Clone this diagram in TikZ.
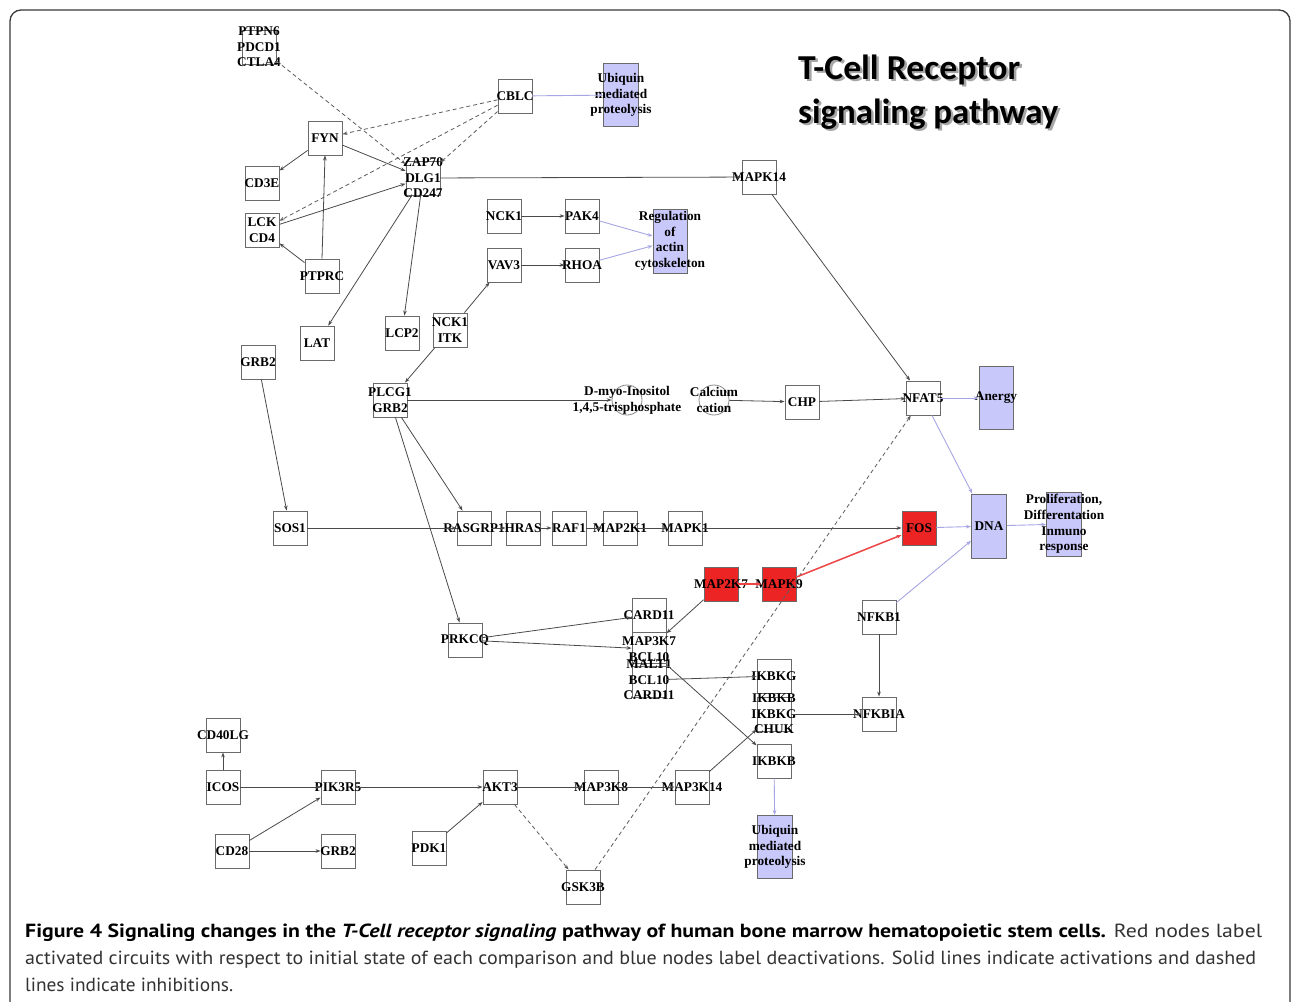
\documentclass[tikz,border=0pt]{standalone}
\usepackage{fontspec}
\usepackage{graphicx}
\setmainfont{Liberation Serif}
\newfontfamily\capfont{PT Sans}
\newfontfamily\titlefont{Carlito}
\usetikzlibrary{arrows.meta}

\definecolor{edgegray}{HTML}{4A4A4A}
\definecolor{boxgray}{HTML}{6A6A6A}
\definecolor{procblue}{HTML}{C8C8FA}
\definecolor{bluelink}{HTML}{A6A6E4}
\definecolor{actred}{HTML}{EC2424}
\definecolor{redlink}{HTML}{EE4444}
\definecolor{framegray}{HTML}{3A3A3A}

\tikzset{
  gene/.style={draw=boxgray, line width=0.9pt, minimum width=34pt, minimum height=34pt, inner sep=0pt},
  redgene/.style={gene, fill=actred},
  proc/.style={draw=boxgray, line width=0.9pt, fill=procblue, minimum width=35pt, minimum height=63pt, inner sep=0pt},
  metab/.style={circle, draw=boxgray!80, line width=0.8pt, minimum size=30pt, inner sep=0pt},
  lbl/.style={font=\bfseries\fontsize{13.3}{15.6}\selectfont, align=center, inner sep=0pt, text=black},
  tip/.style={-{Stealth[length=5pt,width=3.6pt]}},
  act/.style={draw=edgegray, line width=0.8pt, tip},
  inh/.style={draw=edgegray!90, line width=0.8pt, dash pattern=on 4pt off 3pt, tip},
  blu/.style={draw=bluelink, line width=0.9pt, tip},
  redl/.style={draw=redlink, line width=1.5pt, tip},
  titletxt/.style={font=\titlefont\bfseries\fontsize{35}{42}\selectfont, inner sep=0pt},
  captxt/.style={font=\capfont\fontsize{19}{23}\selectfont, inner sep=0pt, anchor=base west}
}

\begin{document}
\begin{tikzpicture}[x=1pt,y=-1pt]
\useasboundingbox (0,0) rectangle (1292,1001);
\fill[white] (0,0) rectangle (1292,1001);
\draw[framegray, line width=1.3pt, rounded corners=11pt] (10,1040) -- (10,10) -- (1290,10) -- (1290,1040);

% ---------- title ----------
\node[titletxt, text=black!35, anchor=base west] (titleshadowA) at (800.5,81.5) {\resizebox{222pt}{\height}{T-Cell Receptor}};
\node[titletxt, text=black!35, anchor=base west] (titleshadowB) at (800.5,125.5) {\resizebox{260pt}{\height}{signaling pathway}};
\node[titletxt, anchor=base west] (titleA) at (798,79) {\resizebox{222pt}{\height}{T-Cell Receptor}};
\node[titletxt, anchor=base west] (titleB) at (798,123) {\resizebox{260pt}{\height}{signaling pathway}};

% ---------- genes: receptor complex ----------
\node[gene, label={[lbl]center:{PTPN6\\PDCD1\\CTLA4}}] (ptpn6) at (259,47) {};
\node[gene, label={[lbl]center:FYN}] (fyn) at (325,138) {};
\node[gene, label={[lbl]center:CD3E}] (cd3e) at (262,183) {};
\node[gene, label={[lbl]center:{LCK\\CD4}}] (lck) at (262,230) {};
\node[gene, label={[lbl]center:PTPRC}] (ptprc) at (322,276) {};
\node[gene, label={[lbl]center:{ZAP70\\DLG1\\CD247}}] (zap) at (423,178) {};
\node[gene, label={[lbl]center:CBLC}] (cblc) at (515,96) {};
\node[proc, label={[lbl]center:{Ubiquin\\mediated\\proteolysis}}] (ubq1) at (621,95) {};
\node[gene, label={[lbl]center:MAPK14}] (mapk14) at (759,177) {};
\node[gene, label={[lbl]center:LAT}] (lat) at (317,343) {};
\node[gene, label={[lbl]center:LCP2}] (lcp2) at (402,333) {};
\node[gene, label={[lbl]center:{NCK1\\ITK}}] (nckitk) at (450,330) {};
\node[gene, label={[lbl]center:GRB2}] (grb2a) at (258,362) {};

% ---------- cytoskeleton branch ----------
\node[gene, label={[lbl]center:NCK1}] (nck1) at (504,216) {};
\node[gene, label={[lbl]center:PAK4}] (pak4) at (582,216) {};
\node[gene, label={[lbl]center:VAV3}] (vav3) at (504,265) {};
\node[gene, label={[lbl]center:RHOA}] (rhoa) at (582,265) {};
\node[proc, minimum width=34pt, minimum height=64pt, label={[lbl]center:{Regulation\\of\\actin\\cytoskeleton}}] (reg) at (670,241) {};

% ---------- PLCG1 / calcium branch ----------
\node[gene, label={[lbl]center:{PLCG1\\GRB2}}] (plcg) at (390,400) {};
\node[metab, label={[lbl]center:{D-myo-Inositol\\1,4,5-trisphosphate}}] (ip3) at (627,400) {};
\node[metab, label={[lbl]center:{Calcium\\cation}}] (ca) at (714,400) {};
\node[gene, label={[lbl]center:CHP}] (chp) at (802,402) {};
\node[gene, label={[lbl]center:NFAT5}] (nfat5) at (923,398) {};
\node[proc, minimum width=34pt, label={[lbl]center:Anergy}] (anergy) at (996,398) {};
\node[proc, minimum height=64pt, label={[lbl]center:DNA}] (dna) at (989,526) {};
\node[proc, minimum height=64pt, label={[lbl]center:{Proliferation,\\Differentation\\Inmuno\\response}}] (prolif) at (1064,524) {};

% ---------- MAPK cascade ----------
\node[gene, label={[lbl]center:SOS1}] (sos1) at (290,528) {};
\node[gene, label={[lbl]center:RASGRP1}] (rasgrp) at (474,528) {};
\node[gene, label={[lbl]center:HRAS}] (hras) at (523,528) {};
\node[gene, label={[lbl]center:RAF1}] (raf1) at (569,528) {};
\node[gene, label={[lbl]center:MAP2K1}] (map2k1) at (620,528) {};
\node[gene, label={[lbl]center:MAPK1}] (mapk1) at (685,528) {};
\node[redgene, label={[lbl]center:FOS}] (fos) at (919,528) {};
\node[redgene, label={[lbl]center:MAP2K7}] (map2k7) at (721,584) {};
\node[redgene, label={[lbl]center:MAPK9}] (mapk9) at (779,584) {};

% ---------- NF-kB branch ----------
\node[gene, label={[lbl]center:PRKCQ}] (prkcq) at (465,640) {};
\node[gene, label={[lbl]center:CARD11}] (card11) at (649,615) {};
\node[gene, label={[lbl]center:{MAP3K7\\BCL10}}] (map3k7) at (649,649) {};
\node[gene, label={[lbl]center:{MALT1\\BCL10\\CARD11}}] (malt1) at (649,680) {};
\node[gene, label={[lbl]center:IKBKG}] (ikbkg) at (774,676) {};
\node[gene, label={[lbl]center:{IKBKB\\IKBKG\\CHUK}}] (ikk) at (774,714) {};
\node[gene, label={[lbl]center:IKBKB}] (ikbkb) at (774,761) {};
\node[proc, label={[lbl]center:{Ubiquin\\mediated\\proteolysis}}] (ubq2) at (775,847) {};
\node[gene, label={[lbl]center:NFKB1}] (nfkb1) at (879,617) {};
\node[gene, label={[lbl]center:NFKBIA}] (nfkbia) at (879,714) {};

% ---------- costimulation / PI3K branch ----------
\node[gene, label={[lbl]center:CD40LG}] (cd40lg) at (223,735) {};
\node[gene, label={[lbl]center:ICOS}] (icos) at (223,787) {};
\node[gene, label={[lbl]center:PIK3R5}] (pik3r5) at (338,787) {};
\node[gene, label={[lbl]center:AKT3}] (akt3) at (500,787) {};
\node[gene, label={[lbl]center:MAP3K8}] (map3k8) at (601,787) {};
\node[gene, label={[lbl]center:MAP3K14}] (map3k14) at (692,787) {};
\node[gene, label={[lbl]center:CD28}] (cd28) at (232,851) {};
\node[gene, label={[lbl]center:GRB2}] (grb2b) at (338,851) {};
\node[gene, label={[lbl]center:PDK1}] (pdk1) at (429,848) {};
\node[gene, label={[lbl]center:GSK3B}] (gsk3b) at (583,887) {};

% ---------- activations ----------
\draw[act] (fyn) -- (cd3e);
\draw[act] (fyn) -- (zap);
\draw[act] (ptprc.north) -- (fyn.south);
\draw[act] (ptprc) -- (lck);
\draw[act] (lck) -- (zap);
\draw[act] (zap) -- (lat);
\draw[act] (zap) -- (lcp2);
\draw[act] (zap) -- (mapk14);
\draw[act] (nck1) -- (pak4);
\draw[act] (vav3) -- (rhoa);
\draw[act] (nckitk) -- (vav3);
\draw[act] (nckitk) -- (plcg);
\draw[act] (mapk14) -- (nfat5);
\draw[act] (plcg) -- (ip3);
\draw[act] (ca) -- (chp);
\draw[act] (chp) -- (nfat5);
\draw[act] (grb2a) -- (sos1);
\draw[act] (sos1) -- (rasgrp);
\draw[act] (rasgrp) -- (hras);
\draw[act] (hras) -- (raf1);
\draw[act] (raf1) -- (map2k1);
\draw[act] (map2k1) -- (mapk1);
\draw[act] (mapk1) -- (fos);
\draw[act] (plcg) -- (rasgrp);
\draw[act] (plcg) -- (prkcq);
\draw[act] (prkcq) -- (card11);
\draw[act] (prkcq) -- (map3k7);
\draw[act] (map2k7) -- (map3k7);
\draw[act] (malt1) -- (ikbkg);
\draw[act] (map3k7) -- (ikbkb);
\draw[act] (map3k14) -- (ikk);
\draw[act] (ikk) -- (nfkbia);
\draw[act] (nfkb1) -- (nfkbia);
\draw[act] (icos) -- (cd40lg);
\draw[act] (icos) -- (pik3r5);
\draw[act] (cd28) -- (pik3r5);
\draw[act] (cd28) -- (grb2b);
\draw[act] (pik3r5) -- (akt3);
\draw[act] (pdk1) -- (akt3);
\draw[act] (akt3) -- (map3k8);
\draw[act] (map3k8) -- (map3k14);

% ---------- inhibitions ----------
\draw[inh] (ptpn6) -- (zap);
\draw[inh] (cblc) -- (fyn);
\draw[inh] (cblc) -- (lck);
\draw[inh] (cblc) -- (zap);
\draw[inh] (akt3) -- (gsk3b);
\draw[inh] (gsk3b) -- (nfat5);

% ---------- activated circuit ----------
\draw[redl] (map2k7) -- (mapk9);
\draw[redl] (mapk9) -- (fos);

% ---------- links to processes ----------
\draw[blu] (cblc) -- (ubq1);
\draw[blu] (pak4) -- (reg);
\draw[blu] (rhoa) -- (reg);
\draw[blu] (nfat5) -- (anergy);
\draw[blu] (nfat5) -- (dna);
\draw[blu] (fos) -- (dna);
\draw[blu] (nfkb1) -- (dna);
\draw[blu] (dna) -- (prolif);
\draw[blu] (ikbkb) -- (ubq2);

% ---------- caption ----------
\node[captxt] (capA) at (25,937) {\resizebox{1237pt}{\height}{\textbf{Figure 4 Signaling changes in the \textit{T-Cell receptor signaling} pathway of human bone marrow hematopoietic stem cells.} \textcolor{black!80}{Red nodes label}}};
\node[captxt, text=black!80] (capB) at (25,964) {\resizebox{1231pt}{\height}{activated circuits with respect to initial state of each comparison and blue nodes label deactivations. Solid lines indicate activations and dashed}};
\node[captxt, text=black!80] (capC) at (25,991) {\resizebox{208pt}{\height}{lines indicate inhibitions.}};
\end{tikzpicture}
\end{document}
